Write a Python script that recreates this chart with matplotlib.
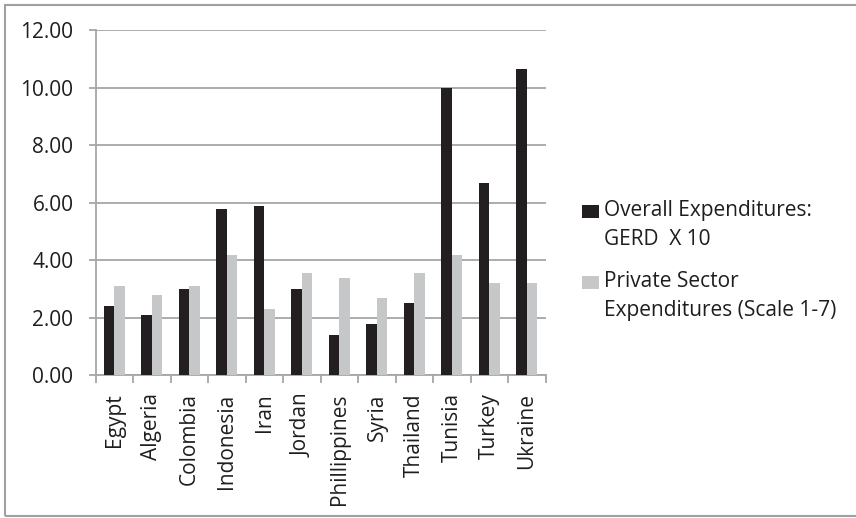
import matplotlib
matplotlib.use("Agg")
import matplotlib.pyplot as plt
from matplotlib.patches import Rectangle
import numpy as np

countries = ["Egypt", "Algeria", "Colombia", "Indonesia", "Iran", "Jordan",
             "Phillippines", "Syria", "Thailand", "Tunisia", "Turkey", "Ukraine"]
gerd_x10 = [2.4, 2.1, 3.0, 5.8, 5.9, 3.0, 1.4, 1.8, 2.5, 10.0, 6.7, 10.65]
private_sector = [3.1, 2.8, 3.1, 4.2, 2.3, 3.55, 3.4, 2.7, 3.55, 4.2, 3.2, 3.2]
series_labels = ["Overall Expenditures:\nGERD  X 10",
                 "Private Sector\nExpenditures (Scale 1-7)"]
yticks = [0, 2, 4, 6, 8, 10, 12]

plt.rcParams['font.family'] = ['Open Sans', 'DejaVu Sans']
FS = 15
TXT = "#1e1e1e"

W, H = 856, 518
fig = plt.figure(figsize=(W / 100, H / 100), dpi=100)

def fx(px):
    return px / W

def fy(py):
    return 1 - py / H

# outer chart border
fig.patches.append(Rectangle((fx(4.5), fy(516)), fx(900), 511 / H,
                             transform=fig.transFigure, fill=False,
                             edgecolor="#a0a0a0", linewidth=1.5))

ax = fig.add_axes([fx(95.7), fy(375.3), (545.7 - 95.7) / W, (375.3 - 30.3) / H])

dark = "#231f20"
light = "#c6c7c8"
grid = "#a6a6a6"
x = np.arange(len(countries))
bw = 0.28
ax.bar(x - bw / 2, gerd_x10, bw, color=dark, zorder=3)
ax.bar(x + bw / 2, private_sector, bw, color=light, zorder=3)

ax.set_xlim(-0.5, len(countries) - 0.5)
ax.set_ylim(0, 12)
ax.set_yticks(yticks)
ax.set_yticklabels([f"{v:.2f}" for v in yticks], fontsize=FS, color=TXT)
ax.yaxis.grid(True, color=grid, linewidth=1.3, zorder=0)
ax.set_axisbelow(True)

ax.set_xticks(x)
ax.set_xticklabels(countries, rotation=90, fontsize=FS, color=TXT)
ax.tick_params(axis="x", length=0, pad=13)
ax.set_xticks(np.arange(-0.5, len(countries)), minor=True)
ax.tick_params(axis="x", which="minor", length=6, color=grid, width=1.3)
ax.tick_params(axis="y", length=5, color=grid, width=1.3, pad=11)

for s in ["top", "right"]:
    ax.spines[s].set_visible(False)
for s in ["left", "bottom"]:
    ax.spines[s].set_color(grid)
    ax.spines[s].set_linewidth(1.3)

# legend: square key aligned with the first line of each label
legend_colors = [dark, light]
legend_tops = [205, 276]
for color, label, top in zip(legend_colors, series_labels, legend_tops):
    fig.patches.append(Rectangle((fx(582), fy(top + 13)), 17 / W, 13 / H,
                                 transform=fig.transFigure,
                                 facecolor=color, edgecolor="none"))
    fig.text(fx(604), fy(top - 5), label, fontsize=FS, color=TXT,
             ha="left", va="top", linespacing=1.5)

fig.savefig("out.png", dpi=100)
